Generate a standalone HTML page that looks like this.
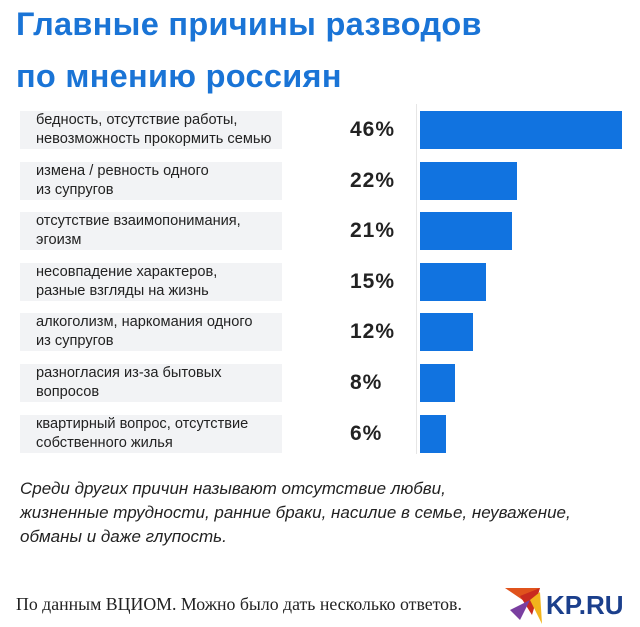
<!DOCTYPE html>
<html><head><meta charset="utf-8"><style>
body{margin:0;width:640px;height:627px;background:#fff;font-family:"Liberation Sans",sans-serif;position:relative;overflow:hidden}
.t{position:absolute;left:16px;color:#1a74d6;font-weight:bold;font-size:32.5px;line-height:52px;letter-spacing:0.3px}
.lbl{position:absolute;left:20px;width:262px;background:#f2f3f5;color:#222;font-size:14.6px;line-height:19px;padding-left:16px;box-sizing:border-box;display:flex;flex-direction:column;justify-content:center;white-space:nowrap}
.pct{position:absolute;left:350px;font-size:21px;font-weight:bold;color:#222;width:70px;letter-spacing:1px}
.bar{position:absolute;background:#1173e0}
.note{position:absolute;left:20px;top:477px;font-style:italic;font-size:17px;line-height:24px;color:#222}
.foot{position:absolute;left:16px;top:594px;font-family:"Liberation Serif",serif;font-size:17.8px;color:#222}
</style></head><body>
<div class="t" style="top:-2px">Главные причины разводов<br>по мнению россиян</div>
<div style="position:absolute;left:416px;top:104px;width:1px;height:350px;background:#e6e6e6"></div>
<div id="rows"></div>
<div class="note">Среди других причин называют отсутствие любви,<br>жизненные трудности, ранние браки, насилие в семье, неуважение,<br>обманы и даже глупость.</div>
<div class="foot">По данным ВЦИОМ. Можно было дать несколько ответов.</div>
<svg style="position:absolute;left:500px;top:580px" width="140" height="45">
<polygon points="5,8 40,8 30,25" fill="#e0531c"/><polygon points="20,16 40,8 32,35" fill="#c92b1f"/><polygon points="10,30 30,20 20,40" fill="#7a3fa0"/><polygon points="30,20 40,12 42,44" fill="#f2b41c"/>
<text x="46" y="34" font-family="Liberation Sans" font-weight="bold" font-size="26" fill="#1b3f8c">KP.RU</text></svg>
<script>
const labels=["бедность, отсутствие работы,<br>невозможность прокормить семью","измена / ревность одного<br>из супругов","отсутствие взаимопонимания,<br>эгоизм","несовпадение характеров,<br>разные взгляды на жизнь","алкоголизм, наркомания одного<br>из супругов","разногласия из-за бытовых<br>вопросов","квартирный вопрос, отсутствие<br>собственного жилья"];
const values=[46,22,21,15,12,8,6];
const x0=420,scale=202/46,top0=111,pitch=50.6,h=38;
const root=document.getElementById('rows');
values.forEach((v,i)=>{
 const y=top0+i*pitch;
 const l=document.createElement('div');l.className='lbl';l.style.top=y+'px';l.style.height=h+'px';l.innerHTML=labels[i];
 
 
 root.appendChild(l);
 const p=document.createElement('div');p.className='pct';p.style.top=(y+7)+'px';p.textContent=v+'%';
 
 
 root.appendChild(p);
 const b=document.createElement('div');b.className='bar';b.style.left=x0+'px';b.style.top=y+'px';b.style.height=h+'px';b.style.width=(v*scale)+'px';
 
 
 root.appendChild(b);
});
</script>
</body></html>
